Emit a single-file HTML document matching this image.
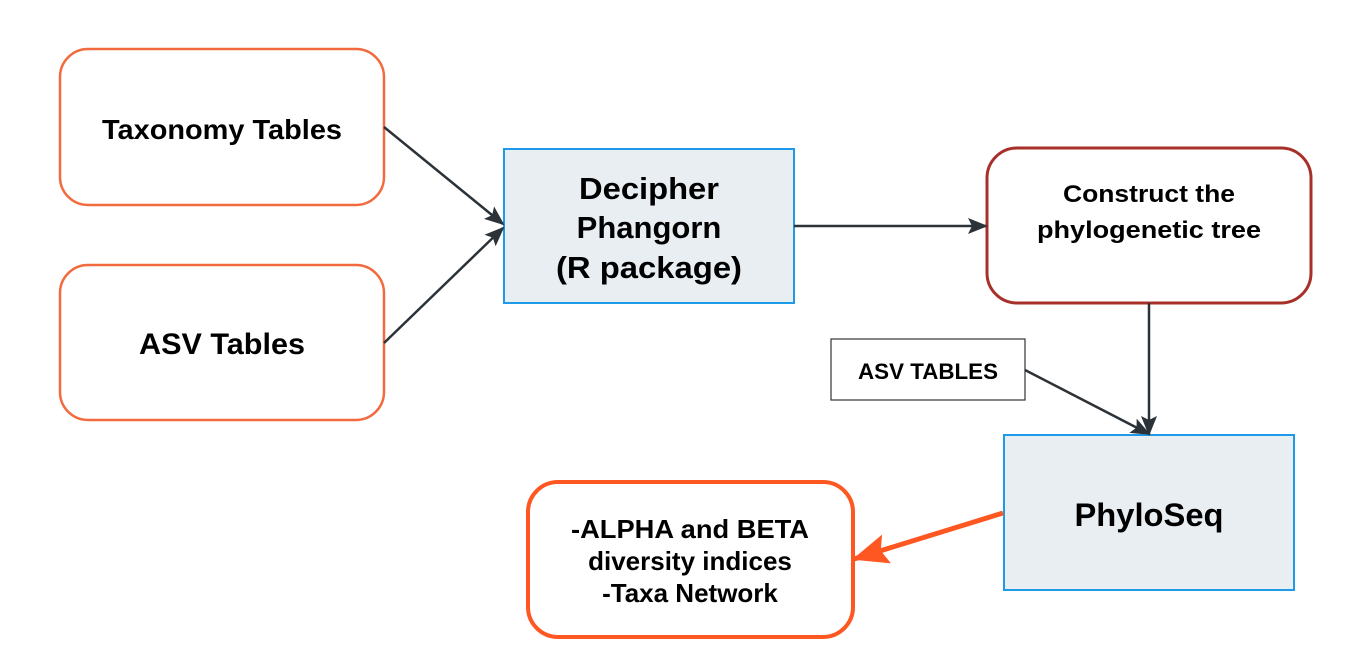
<!DOCTYPE html>
<html><head><meta charset="utf-8"><style>
html,body{margin:0;padding:0;background:#fff;}
svg{display:block;}
text{font-family:"Liberation Sans",sans-serif;font-weight:bold;fill:#000;text-anchor:middle;}
</style></head><body>
<svg width="1354" height="662" viewBox="0 0 1354 662" xmlns="http://www.w3.org/2000/svg">
<defs>
<marker id="a" markerWidth="20" markerHeight="16" refX="18" refY="8" orient="auto" markerUnits="userSpaceOnUse" viewBox="0 0 20 16">
<path d="M0,0 L20,8 L0,16 L4,8 z" fill="#2b3238"/></marker>
<marker id="a2" markerWidth="36" markerHeight="30" refX="34" refY="15" orient="auto" markerUnits="userSpaceOnUse" viewBox="0 0 36 30">
<path d="M0,0 L36,15 L0,30 L6,15 z" fill="#ff5722"/></marker>
</defs>
<rect x="60" y="49" width="324" height="156" rx="28" fill="#fff" stroke="#f26a3d" stroke-width="2.5"/>
<text x="222" y="139" font-size="28" textLength="240" lengthAdjust="spacingAndGlyphs">Taxonomy Tables</text>
<rect x="60" y="265" width="324" height="155" rx="28" fill="#fff" stroke="#f26a3d" stroke-width="2.5"/>
<text x="222" y="354" font-size="30" textLength="166" lengthAdjust="spacingAndGlyphs">ASV Tables</text>
<rect x="504" y="149" width="290" height="154" fill="#e9eef3" stroke="#1e9be8" stroke-width="2"/>
<text x="649" y="199" font-size="31" textLength="140" lengthAdjust="spacingAndGlyphs">Decipher</text>
<text x="649" y="238" font-size="31">Phangorn</text>
<text x="649" y="278" font-size="31" textLength="186" lengthAdjust="spacingAndGlyphs">(R package)</text>
<rect x="987" y="148" width="324" height="155" rx="30" fill="#fff" stroke="#a8302a" stroke-width="3"/>
<text x="1149" y="202" font-size="24" textLength="172" lengthAdjust="spacingAndGlyphs">Construct the</text>
<text x="1149" y="238" font-size="24" textLength="224" lengthAdjust="spacingAndGlyphs">phylogenetic tree</text>
<rect x="831" y="339" width="194" height="61" fill="#fff" stroke="#333" stroke-width="1.2"/>
<text x="928" y="379" font-size="22" textLength="140" lengthAdjust="spacingAndGlyphs">ASV TABLES</text>
<rect x="1004" y="435" width="290" height="155" fill="#e9eef3" stroke="#1e9be8" stroke-width="2"/>
<text x="1149" y="526" font-size="32" textLength="149" lengthAdjust="spacingAndGlyphs">PhyloSeq</text>
<rect x="528" y="482" width="325" height="155" rx="30" fill="#fff" stroke="#ff5722" stroke-width="4"/>
<text x="690" y="538" font-size="26" textLength="238" lengthAdjust="spacingAndGlyphs">-ALPHA and BETA</text>
<text x="690" y="570" font-size="26">diversity indices</text>
<text x="690" y="602" font-size="26">-Taxa Network</text>
<g stroke="#2b3238" stroke-width="2.5" fill="none">
<line x1="384" y1="127" x2="503" y2="224" marker-end="url(#a)"/>
<line x1="384" y1="343" x2="503" y2="228" marker-end="url(#a)"/>
<line x1="794" y1="226" x2="986" y2="226" marker-end="url(#a)"/>
<line x1="1149" y1="303" x2="1149" y2="434" marker-end="url(#a)"/>
<line x1="1025" y1="370" x2="1149" y2="434" marker-end="url(#a)"/>
</g>
<line x1="1003" y1="513" x2="854" y2="559" stroke="#ff5722" stroke-width="5" marker-end="url(#a2)"/>
</svg>
</body></html>
